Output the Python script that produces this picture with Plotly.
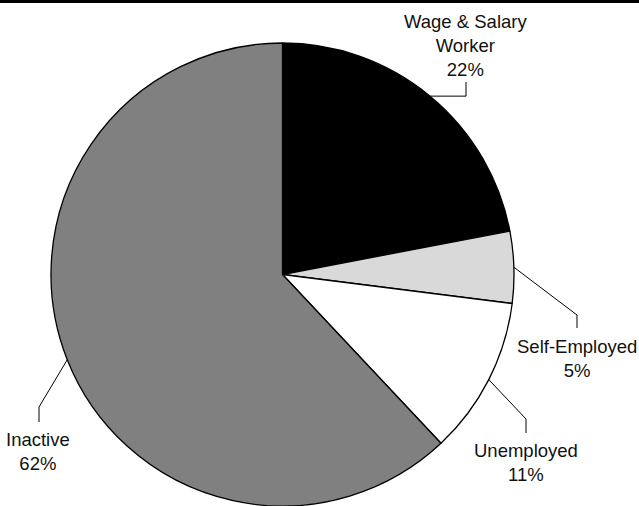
import math
import plotly.graph_objects as go

# Employment status shares (percent)
categories = ["Wage & Salary Worker", "Self-Employed", "Unemployed", "Inactive"]
label_text = ["Wage & Salary<br>Worker", "Self-Employed", "Unemployed", "Inactive"]
shares = [22, 5, 11, 62]
slice_colors = ["#000000", "#d9d9d9", "#ffffff", "#808080"]

# Figure geometry (pixels)
W, H = 639, 506
M_L, M_R, M_T, M_B = 51, 125, 43, 0
PW, PH = W - M_L - M_R, H - M_T - M_B
CX, CY = M_L + PW / 2, M_T + PH / 2
R = min(PW, PH) / 2

# Label placement (pixel centres of text blocks) and leader-line elbows / ends
label_pos = [(465, 45), (577, 358), (526, 462), (38, 451)]
elbow_pos = [(466, None), (577, 315), (526, 419), (39, 407)]
end_y = [82, 328, 433, 422]


def px(x):
    return (x - M_L) / PW


def py(y):
    return (H - M_B - y) / PH


fig = go.Figure(
    go.Pie(
        labels=categories,
        values=shares,
        sort=False,
        direction="clockwise",
        rotation=0,
        textinfo="none",
        hoverinfo="label+percent",
        marker=dict(colors=slice_colors, line=dict(color="#000000", width=1.3)),
        domain=dict(x=[0, 1], y=[0, 1]),
        showlegend=False,
    )
)

shapes = []
annotations = []
total = sum(shares)
cum = 0
for i, v in enumerate(shares):
    mid = (cum + v / 2) / total * 2 * math.pi
    cum += v
    sx = CX + R * math.sin(mid)
    sy = CY - R * math.cos(mid)
    ex, ey = elbow_pos[i]
    if ey is None:
        ey = sy
    path = f"M {px(sx)} {py(sy)} L {px(ex)} {py(ey)} L {px(ex)} {py(end_y[i])}"
    shapes.append(dict(type="path", xref="paper", yref="paper", path=path,
                       line=dict(color="#000000", width=1)))
    pct = round(v / total * 100)
    lx, ly = label_pos[i]
    annotations.append(dict(
        x=px(lx), y=py(ly), xref="paper", yref="paper",
        text=f"{label_text[i]}<br>{pct}%", showarrow=False,
        xanchor="center", yanchor="middle", align="center",
        font=dict(family="Liberation Sans, Arial, sans-serif", size=18.5, color="#111111"),
    ))

# Heavy rule across the top edge
shapes.append(dict(type="rect", xref="paper", yref="paper",
                   x0=px(0), x1=px(W), y0=py(3), y1=py(0),
                   fillcolor="#000000", line=dict(width=0), layer="above"))

fig.update_layout(
    width=W, height=H,
    margin=dict(l=M_L, r=M_R, t=M_T, b=M_B),
    paper_bgcolor="#ffffff", plot_bgcolor="#ffffff",
    shapes=shapes, annotations=annotations,
)

fig.write_html("out.html")
